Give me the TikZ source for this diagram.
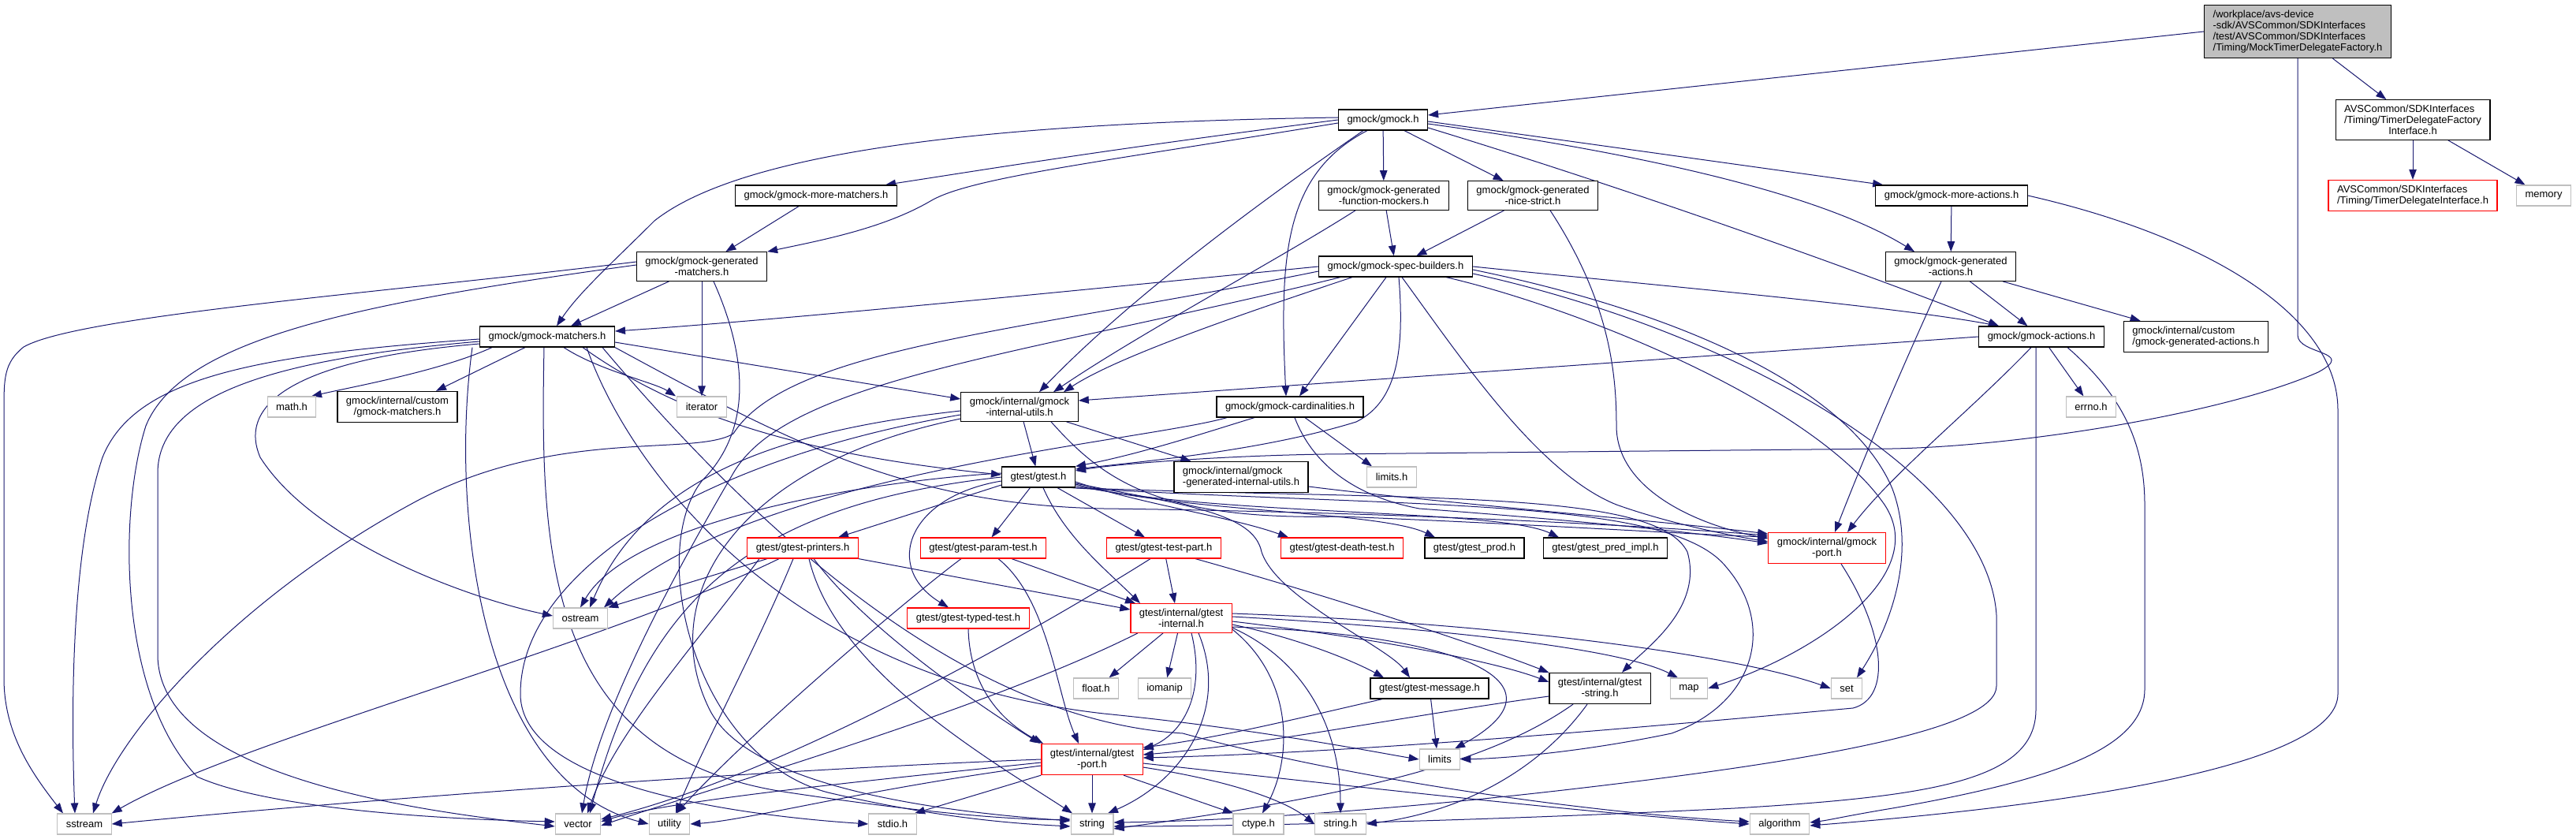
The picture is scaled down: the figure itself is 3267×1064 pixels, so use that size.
\documentclass[tikz,border=0pt]{standalone}
\usepackage{fontspec}
\setmainfont{Liberation Sans}
\usetikzlibrary{arrows.meta}
\definecolor{depblue}{HTML}{191970}
\definecolor{sysgray}{HTML}{BFBFBF}
\definecolor{hdrred}{HTML}{FF0000}
\pgfdeclarelayer{bg}
\pgfsetlayers{bg,main}
\tikzset{
  hdr/.style={draw=black,fill=white,line width=1.2pt,inner xsep=11pt,inner ysep=6.5pt,
    minimum height=26pt,align=center,font=\fontsize{13}{14}\selectfont},
  redhdr/.style={hdr,draw=hdrred},
  syshdr/.style={hdr,draw=sysgray},
  mainhdr/.style={hdr,fill=sysgray},
  dep/.style={draw=depblue,line width=1pt,-{Triangle[length=13pt,width=9.5pt]}}
}
\begin{document}
\begin{tikzpicture}[x=1pt,y=-1pt]
  \useasboundingbox (0,0) rectangle (3267,1064);
  \node[mainhdr,align=left] (mockfac) at (2914,40) {/workplace/avs-device\\-sdk/AVSCommon/SDKInterfaces\\/test/AVSCommon/SDKInterfaces\\/Timing/MockTimerDelegateFactory.h};
  \node[hdr,align=left] (tdfi) at (3060,152) {AVSCommon/SDKInterfaces\\/Timing/TimerDelegateFactory\\\hspace*{\fill}Interface.h\hspace*{\fill}};
  \node[redhdr,align=left] (tdi) at (3060,248) {AVSCommon/SDKInterfaces\\/Timing/TimerDelegateInterface.h};
  \node[hdr] (gmock) at (1754,152) {gmock/gmock.h};
  \node[hdr] (moremat) at (1035,248) {gmock/gmock-more-matchers.h};
  \node[hdr] (funcmock) at (1755,248) {gmock/gmock-generated\\-function-mockers.h};
  \node[hdr] (nicestrict) at (1944,248) {gmock/gmock-generated\\-nice-strict.h};
  \node[hdr] (moreact) at (2475,248) {gmock/gmock-more-actions.h};
  \node[hdr] (genmat) at (890,338) {gmock/gmock-generated\\-matchers.h};
  \node[hdr] (specb) at (1770,338) {gmock/gmock-spec-builders.h};
  \node[hdr] (genact) at (2474,338) {gmock/gmock-generated\\-actions.h};
  \node[hdr] (matchers) at (694,427) {gmock/gmock-matchers.h};
  \node[hdr] (actions) at (2589,427) {gmock/gmock-actions.h};
  \node[hdr,align=left] (custact) at (2785,427) {gmock/internal/custom\\/gmock-generated-actions.h};
  \node[hdr] (custmat) at (504,516) {gmock/internal/custom\\/gmock-matchers.h};
  \node[hdr] (intutils) at (1293,516) {gmock/internal/gmock\\-internal-utils.h};
  \node[hdr] (card) at (1636,516) {gmock/gmock-cardinalities.h};
  \node[hdr] (gtest) at (1317,605) {gtest/gtest.h};
  \node[hdr,align=left] (genintutils) at (1574,605) {gmock/internal/gmock\\-generated-internal-utils.h};
  \node[redhdr] (printers) at (1018,695) {gtest/gtest-printers.h};
  \node[redhdr] (paramtest) at (1247,695) {gtest/gtest-param-test.h};
  \node[redhdr] (testpart) at (1476,695) {gtest/gtest-test-part.h};
  \node[redhdr] (deathtest) at (1702,695) {gtest/gtest-death-test.h};
  \node[hdr] (prod) at (1870,695) {gtest/gtest\_prod.h};
  \node[hdr] (predimpl) at (2036,695) {gtest/gtest\_pred\_impl.h};
  \node[redhdr] (gmockport) at (2317,695) {gmock/internal/gmock\\-port.h};
  \node[redhdr] (typedtest) at (1228,784) {gtest/gtest-typed-test.h};
  \node[redhdr] (gtinternal) at (1498,784) {gtest/internal/gtest\\-internal.h};
  \node[hdr] (message) at (1813,873) {gtest/gtest-message.h};
  \node[hdr] (gtstring) at (2029,873) {gtest/internal/gtest\\-string.h};
  \node[redhdr] (gtport) at (1385,963) {gtest/internal/gtest\\-port.h};
  \foreach \nm/\xx/\yy/\lbl in {memory/3226/248/memory, errno/2652/516/errno.h, mathh/370/516/math.h,
      iterator/890/516/iterator, limitsh/1765/605/limits.h, ostream/736/784/ostream, floath/1390/873/float.h,
      iomanip/1477/873/iomanip, mapn/2142/873/map, setn/2342/873/set, limits/1826/963/limits,
      sstream/107/1045/sstream, vector/733/1045/vector, utility/849/1045/utility, stdio/1132/1045/stdio.h,
      stringn/1385/1045/string, ctype/1596/1045/ctype.h, stringh/1700/1045/string.h, algorithm/2257/1045/algorithm}
    \node[syshdr] (\nm) at (\xx,\yy) {\lbl};

  \begin{pgfonlayer}{bg}
  \fill[white] (0,0) rectangle (3267,1064);
  % mock factory and its interface
  \draw[dep] (mockfac.west) -- ([yshift=6pt]gmock.east);
  \draw[dep] (mockfac) -- (tdfi);
  \draw[dep] (mockfac.south) -- (2914,425) .. controls (2914,450) and (2990,445) .. (2940,472)
    .. controls (2820,525) and (2560,566) .. (2400,569) -- (1680,576)
    .. controls (1550,578) and (1420,588) .. ([yshift=8pt]gtest.east);
  \draw[dep] (tdfi) -- (tdi);
  \draw[dep] (tdfi) -- (memory);
  % gmock.h
  \draw[dep] (gmock.west) .. controls (1400,190) and (1250,215) .. ([xshift=-15pt]moremat.north east);
  \draw[dep] ([yshift=-4pt]gmock.west) .. controls (1400,205) and (1230,225) .. (1180,255)
    .. controls (1120,290) and (1040,305) .. (genmat.north east);
  \draw[dep] ([yshift=3pt]gmock.west) .. controls (1300,155) and (950,185) .. (830,280)
    .. controls (780,330) and (735,370) .. ([xshift=12pt]matchers.north);
  \draw[dep] (gmock) -- (funcmock);
  \draw[dep] (gmock) -- (nicestrict);
  \draw[dep] ([xshift=-25pt]gmock.south) .. controls (1650,220) and (1450,360) .. ([xshift=25pt]intutils.north);
  \draw[dep] ([xshift=-20pt]gmock.south) .. controls (1630,220) and (1622,320) .. ([xshift=-5pt]card.north);
  \draw[dep] ([yshift=-2pt]gmock.east) -- ([xshift=10pt]moreact.north west);
  \draw[dep] ([yshift=-5pt]gmock.east) .. controls (2050,190) and (2300,240) .. ([xshift=-46pt]genact.north);
  \draw[dep] ([yshift=-10pt]gmock.east) .. controls (2100,250) and (2400,360) .. ([xshift=-54pt]actions.north);
  % generated matchers
  \draw[dep] (moremat) -- (genmat);
  \draw[dep] (genmat) -- (matchers);
  \draw[dep] (genmat) -- (iterator);
  \draw[dep] ([yshift=6pt]genmat.west) .. controls (500,370) and (100,400) .. (30,440)
    .. controls (5,460) and (5,480) .. (5,520) -- (5,860) .. controls (5,930) and (40,980) .. ([xshift=-27pt]sstream.north);
  \draw[dep] ([yshift=2pt]genmat.west) .. controls (450,385) and (230,430) .. (185,540)
    .. controls (150,650) and (150,880) .. (250,985) .. controls (350,1030) and (600,1040) .. ([yshift=3pt]vector.west);
  \draw[dep] ([xshift=15pt]genmat.south) .. controls (960,480) and (940,560) .. (890,610)
    .. controls (820,700) and (880,960) .. (1050,1005) .. controls (1200,1040) and (1300,1045) .. ([yshift=-3pt]stringn.west);
  % mockers and spec builders
  \draw[dep] (funcmock) -- (specb);
  \draw[dep] ([xshift=-36pt]funcmock.south) .. controls (1620,330) and (1450,420) .. ([xshift=43pt]intutils.north);
  \draw[dep] (nicestrict) -- (specb);
  \draw[dep] ([xshift=22pt]nicestrict.south) .. controls (2040,380) and (2050,470) .. (2050,540)
    .. controls (2050,620) and (2150,665) .. ([yshift=12pt]gmockport.west);
  \draw[dep] (specb.west) .. controls (1400,365) and (1000,405) .. ([yshift=7pt]matchers.east);
  \draw[dep] ([xshift=-55pt]specb.south) .. controls (1600,390) and (1420,450) .. ([xshift=56pt]intutils.north);
  \draw[dep] ([xshift=-12pt]specb.south) -- ([xshift=12pt]card.north);
  \draw[dep] ([xshift=4pt]specb.south) .. controls (1782,450) and (1770,510) .. (1720,535)
    .. controls (1600,572) and (1450,585) .. ([yshift=10pt]gtest.east);
  \draw[dep] (specb.east) .. controls (2100,362) and (2400,388) .. ([xshift=-54pt]actions.north);
  \draw[dep] ([xshift=8pt]specb.south) .. controls (1850,450) and (1950,600) .. (2050,640)
    .. controls (2120,665) and (2200,680) .. ([yshift=8pt]gmockport.west);
  \draw[dep] ([xshift=64pt]specb.south) .. controls (2000,390) and (2300,510) .. (2390,640)
    .. controls (2450,730) and (2300,830) .. (mapn.east);
  \draw[dep] ([yshift=-4pt]specb.east) .. controls (2150,400) and (2350,500) .. (2400,620)
    .. controls (2430,700) and (2400,790) .. ([xshift=13pt]setn.north);
  \draw[dep] ([yshift=-9pt]specb.east) .. controls (2200,420) and (2520,600) .. (2532,780) -- (2532,870)
    .. controls (2532,925) and (2300,965) .. (2000,1000) .. controls (1700,1035) and (1500,1042) .. ([yshift=2pt]stringn.east);
  \draw[dep] ([yshift=-6pt]specb.west) .. controls (1300,420) and (1000,440) .. (930,550)
    .. controls (880,580) and (700,540) .. (520,640) .. controls (300,760) and (150,930) .. ([xshift=11pt]sstream.north);
  \draw[dep] ([xshift=-70pt]specb.south) .. controls (1300,450) and (1000,480) .. (930,600)
    .. controls (860,720) and (760,900) .. ([xshift=5pt]vector.north);
  % actions
  \draw[dep] (moreact) -- (genact);
  \draw[dep] (moreact.east) .. controls (2800,300) and (2965,400) .. (2965,520) -- (2965,880)
    .. controls (2965,960) and (2700,1015) .. ([yshift=-2pt]algorithm.east);
  \draw[dep] (genact) -- (actions);
  \draw[dep] (genact) -- (custact);
  \draw[dep] ([xshift=-12pt]genact.south) .. controls (2420,450) and (2380,540) .. ([xshift=10pt]gmockport.north);
  \draw[dep] (actions.west) -- ([yshift=8pt]intutils.east);
  \draw[dep] ([xshift=-13pt]actions.south) .. controls (2500,520) and (2400,600) .. ([xshift=26pt]gmockport.north);
  \draw[dep] (actions) -- (errno);
  \draw[dep] ([xshift=-7pt]actions.south) -- (2582,900) .. controls (2582,990) and (2450,1010) .. (2200,1025)
    .. controls (1800,1045) and (1500,1048) .. ([yshift=-3pt]stringn.east);
  \draw[dep] ([xshift=33pt]actions.south) .. controls (2690,500) and (2720,560) .. (2720,640) -- (2720,874)
    .. controls (2720,950) and (2600,990) .. (2400,1025) .. controls (2340,1035) and (2320,1040) .. ([yshift=2pt]algorithm.east);
  % matchers
  \draw[dep] ([xshift=-70pt]matchers.south) .. controls (560,470) and (450,490) .. ([xshift=25pt]mathh.north);
  \draw[dep] ([xshift=-28pt]matchers.south) -- ([xshift=49pt]custmat.north);
  \draw[dep] ([xshift=21pt]matchers.south) .. controls (760,470) and (830,485) .. ([xshift=-33pt]iterator.north);
  \draw[dep] ([yshift=-7pt]matchers.east) -- ([yshift=10pt]intutils.west);
  \draw[dep] ([xshift=45pt]matchers.south) .. controls (850,520) and (1000,575) .. ([yshift=3pt]gtest.west);
  \draw[dep] (matchers.south east) .. controls (1000,560) and (1150,640) .. (1400,645)
    .. controls (1800,650) and (2100,668) .. ([yshift=16pt]gmockport.west);
  \draw[dep] ([yshift=-9pt]matchers.west) .. controls (380,455) and (300,510) .. (330,580)
    .. controls (400,690) and (600,760) .. ([yshift=3pt]ostream.west);
  \draw[dep] ([yshift=-3pt]matchers.west) .. controls (320,450) and (170,480) .. (130,580)
    .. controls (90,700) and (90,900) .. ([xshift=-12pt]sstream.north);
  \draw[dep] ([yshift=-6pt]matchers.west) .. controls (350,455) and (200,500) .. (200,600) -- (200,830)
    .. controls (200,990) and (550,1030) .. ([yshift=-3pt]vector.west);
  \draw[dep] ([xshift=-95pt]matchers.south) .. controls (570,650) and (610,990) .. (utility.west);
  \draw[dep] ([xshift=-4pt]matchers.south) .. controls (685,700) and (690,960) .. (1000,1005)
    .. controls (1200,1035) and (1300,1040) .. ([yshift=6pt]stringn.west);
  \draw[dep] ([xshift=50pt]matchers.south) .. controls (800,600) and (1000,860) .. (1400,905)
    .. controls (1600,925) and (1750,955) .. (limits.west);
  \draw[dep] ([xshift=70pt]matchers.south) .. controls (1000,720) and (1250,915) .. (1500,930)
    .. controls (1700,985) and (2000,1030) .. ([yshift=3pt]algorithm.west);
  % internal utils and cardinalities
  \draw[dep] (intutils) -- (gtest);
  \draw[dep] (intutils) -- (genintutils);
  \draw[dep] ([xshift=40pt]intutils.south) .. controls (1400,610) and (1470,660) .. (1700,655)
    .. controls (1950,665) and (2150,678) .. ([yshift=14pt]gmockport.west);
  \draw[dep] ([yshift=-5pt]intutils.west) .. controls (1000,545) and (820,600) .. ([xshift=12pt]ostream.north);
  \draw[dep] ([yshift=-10pt]intutils.west) .. controls (900,580) and (660,720) .. (660,880)
    .. controls (660,1000) and (950,1035) .. (stdio.west);
  \draw[dep] ([yshift=-15pt]intutils.west) .. controls (930,590) and (830,760) .. (900,900)
    .. controls (950,1000) and (1200,1030) .. ([yshift=4pt]stringn.west);
  \draw[dep] ([yshift=-12pt]genintutils.east) .. controls (1800,635) and (2100,660) .. ([yshift=18pt]gmockport.west);
  \draw[dep] ([xshift=-45pt]card.south) .. controls (1540,545) and (1450,575) .. (gtest.north east);
  \draw[dep] ([xshift=6pt]card.south) .. controls (1665,590) and (1720,630) .. (1800,645)
    .. controls (2000,660) and (2150,675) .. ([yshift=6pt]gmockport.west);
  \draw[dep] ([xshift=19pt]card.south) -- ([xshift=-25pt]limitsh.north);
  \draw[dep] ([xshift=-80pt]card.south) .. controls (1450,560) and (950,600) .. ([xshift=30pt]ostream.north);
  % gtest.h
  \draw[dep] ([yshift=-10pt]gtest.west) -- ([xshift=45pt]printers.north);
  \draw[dep] (gtest) -- (paramtest);
  \draw[dep] (gtest) -- (testpart);
  \draw[dep] ([yshift=-5pt]gtest.west) .. controls (1150,630) and (1120,720) .. ([xshift=-25pt]typedtest.north);
  \draw[dep] ([xshift=6pt]gtest.south) .. controls (1350,680) and (1400,720) .. ([xshift=-52pt]gtinternal.north);
  \draw[dep] ([yshift=-8pt]gtest.east) .. controls (1500,640) and (1590,650) .. (1600,700)
    .. controls (1620,760) and (1760,820) .. ([xshift=-25pt]message.north);
  \draw[dep] ([yshift=-6pt]gtest.east) .. controls (1450,640) and (1560,655) .. ([xshift=-68pt]deathtest.north);
  \draw[dep] ([yshift=-9pt]gtest.east) .. controls (1500,650) and (1750,648) .. ([xshift=-50pt]prod.north);
  \draw[dep] ([yshift=-11pt]gtest.east) .. controls (1550,655) and (1900,645) .. ([xshift=-59pt]predimpl.north);
  \draw[dep] (gtest.south east) .. controls (1800,635) and (2100,620) .. (2140,700)
    .. controls (2160,770) and (2090,820) .. ([xshift=28pt]gtstring.north);
  \draw[dep] ([xshift=-5pt]gtest.south east) .. controls (1800,645) and (2120,630) .. (2190,720)
    .. controls (2250,790) and (2230,890) .. (2120,930) .. controls (2000,955) and (1900,962) .. (limits.east);
  \draw[dep] ([yshift=5pt]gtest.west) .. controls (1100,610) and (800,660) .. (ostream.north);
  \draw[dep] (gtest.west) .. controls (950,640) and (820,760) .. ([xshift=15pt]vector.north);
  % gtest parts
  \draw[dep] ([xshift=-45pt]printers.south) -- (ostream.north east);
  \draw[dep] ([xshift=-30pt]printers.south) .. controls (760,820) and (300,940) .. (sstream.north east);
  \draw[dep] ([xshift=-12pt]printers.south) .. controls (960,820) and (890,950) .. ([xshift=8pt]utility.north);
  \draw[dep] ([xshift=-55pt]printers.south) .. controls (880,820) and (780,930) .. ([xshift=12pt]vector.north);
  \draw[dep] ([xshift=8pt]printers.south) .. controls (1060,850) and (1250,960) .. ([xshift=-25pt]stringn.north);
  \draw[dep] ([xshift=14pt]printers.south) .. controls (1100,800) and (1250,900) .. ([xshift=-66pt]gtport.north);
  \draw[dep] (printers.south east) -- ([yshift=11pt]gtinternal.west);
  \draw[dep] ([xshift=36pt]paramtest.south) -- ([xshift=-58pt]gtinternal.north);
  \draw[dep] ([xshift=19pt]paramtest.south) .. controls (1330,760) and (1340,880) .. ([xshift=-17pt]gtport.north);
  \draw[dep] ([xshift=-28pt]paramtest.south) .. controls (1150,760) and (950,930) .. ([xshift=9pt]utility.north);
  \draw[dep] (testpart) -- ([xshift=-8pt]gtinternal.north);
  \draw[dep] ([xshift=40pt]testpart.south) .. controls (1700,760) and (1880,820) .. (gtstring.north west);
  \draw[dep] ([xshift=-17pt]testpart.south) .. controls (1330,790) and (1000,980) .. ([yshift=6pt]vector.east);
  \draw[dep] (typedtest.south) .. controls (1230,880) and (1280,920) .. ([xshift=-62pt]gtport.north);
  % gtest internal
  \draw[dep] (gtinternal) -- (floath);
  \draw[dep] (gtinternal) -- (iomanip);
  \draw[dep] ([xshift=13pt]gtinternal.south) .. controls (1530,880) and (1500,930) .. ([yshift=12pt]gtport.east);
  \draw[dep] ([xshift=22pt]gtinternal.south) .. controls (1560,900) and (1500,990) .. ([xshift=20pt]stringn.north);
  \draw[dep] ([xshift=-55pt]gtinternal.south) .. controls (1250,900) and (900,1000) .. ([yshift=-2pt]vector.east);
  \draw[dep] ([yshift=-8pt]gtinternal.east) .. controls (1650,810) and (1720,840) .. ([xshift=-58pt]message.north);
  \draw[dep] ([yshift=-4pt]gtinternal.east) .. controls (1750,810) and (1900,840) .. ([yshift=8pt]gtstring.west);
  \draw[dep] ([yshift=2pt]gtinternal.east) .. controls (1800,795) and (2050,820) .. ([xshift=-14pt]mapn.north);
  \draw[dep] ([yshift=6pt]gtinternal.east) .. controls (1900,790) and (2200,830) .. (setn.west);
  \draw[dep] ([yshift=-11pt]gtinternal.east) .. controls (1870,805) and (1990,870) .. ([xshift=19pt]limits.north);
  \draw[dep] ([yshift=-14pt]gtinternal.east) .. controls (1640,860) and (1640,960) .. ([xshift=5pt]ctype.north);
  \draw[dep] ([yshift=-12pt]gtinternal.east) .. controls (1660,840) and (1700,930) .. (stringh.north);
  \draw[dep] (message) -- ([xshift=-4pt]limits.north);
  \draw[dep] ([xshift=-60pt]message.south) .. controls (1650,910) and (1550,935) .. ([yshift=15pt]gtport.east);
  \draw[dep] ([yshift=-10pt]gtstring.west) .. controls (1800,905) and (1600,945) .. ([yshift=6pt]gtport.east);
  \draw[dep] ([xshift=-34pt]gtstring.south) .. controls (1900,960) and (1750,1005) .. ([yshift=-6pt]stringn.east);
  \draw[dep] ([xshift=-16pt]gtstring.south) .. controls (1950,980) and (1850,1030) .. (stringh.east);
  \draw[dep] ([xshift=18pt]gmockport.south) .. controls (2390,800) and (2400,885) .. (2350,898)
    .. controls (2000,930) and (1700,955) .. ([yshift=2pt]gtport.east);
  % gtest port
  \draw[dep] (gtport) -- (stringn);
  \draw[dep] (gtport.south west) -- ([xshift=28pt]stdio.north);
  \draw[dep] ([yshift=-8pt]gtport.west) .. controls (1100,1000) and (950,1040) .. (utility.east);
  \draw[dep] ([yshift=-4pt]gtport.west) .. controls (1100,990) and (850,1015) .. ([yshift=3pt]vector.east);
  \draw[dep] (gtport.west) .. controls (1000,975) and (500,1010) .. (sstream.east);
  \draw[dep] ([xshift=40pt]gtport.south) -- ([xshift=-32pt]ctype.north);
  \draw[dep] ([yshift=-10pt]gtport.east) .. controls (1560,990) and (1630,1015) .. (stringh.west);
  \draw[dep] ([yshift=-5pt]gtport.east) .. controls (1700,995) and (2000,1030) .. (algorithm.west);
  \end{pgfonlayer}
\end{tikzpicture}
\end{document}
